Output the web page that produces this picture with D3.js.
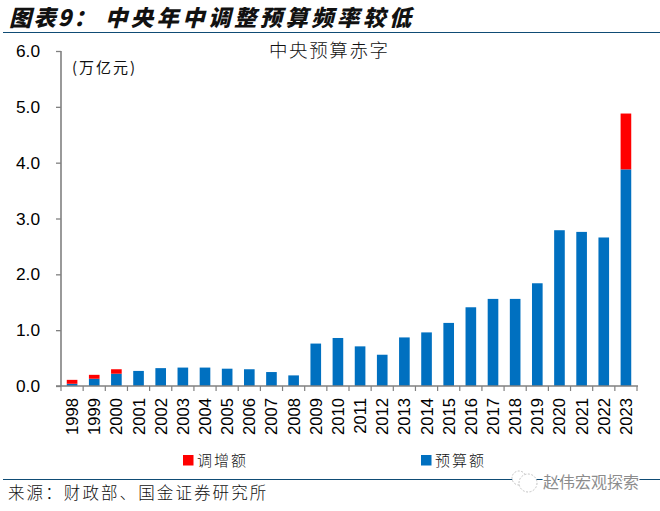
<!DOCTYPE html>
<html><head><meta charset="utf-8">
<script src="https://cdnjs.cloudflare.com/ajax/libs/d3/7.8.5/d3.min.js"></script>
<style>html,body{margin:0;padding:0;background:#fff}svg{display:block}</style>
</head><body><svg id="c" width="660" height="511"></svg>
<script>
const years = ["1998","1999","2000","2001","2002","2003","2004","2005","2006","2007","2008","2009","2010","2011","2012","2013","2014","2015","2016","2017","2018","2019","2020","2021","2022","2023"];
const budget = [0.04,0.13,0.22,0.27,0.32,0.33,0.33,0.31,0.30,0.25,0.19,0.76,0.86,0.71,0.56,0.87,0.96,1.13,1.41,1.56,1.56,1.84,2.79,2.76,2.66,3.88];
const increase = [0.07,0.07,0.08,0,0,0,0,0,0,0,0,0,0,0,0,0,0,0,0,0,0,0,0,0,0,1.0];
const yTicks = [0,1,2,3,4,5,6];
const titleLead = "图表9\uFF1A";
const titleMain = "中央年中调整预算频率较低";
const chartTitle = "中央预算赤字";
const unitLabel = "(万亿元)";
const sourceText = "来源\uFF1A财政部、国金证券研究所";
const watermark = "赵伟宏观探索";
const legendItems = [{name:"调增额",color:"#ff0000",x:183},{name:"预算额",color:"#0070c0",x:421}];

const svg = d3.select("#c");
const sans = "'Liberation Sans',Arial,sans-serif";
const cjk = "'Noto Sans CJK SC',sans-serif";
const x = d3.scaleBand().domain(years).range([61,637]).paddingInner(0.52).paddingOuter(0.26);
const y = d3.scaleLinear().domain([0,6]).range([386,51]);
const axisColor = "#808080";

// Rules
[32.5,479.5].forEach(ry=>svg.append("line").attr("x1",3).attr("x2",660).attr("y1",ry).attr("y2",ry).attr("stroke","#0f4c75").attr("stroke-width",1.2));

// Title
[[titleLead,9,2],[titleMain,105,3.4]].forEach(([t,tx,ls])=>{
  svg.append("text").attr("transform",`translate(${tx},26) skewX(-14)`).attr("font-family",cjk).attr("font-weight",900)
    .attr("font-size",22.4).attr("letter-spacing",ls).attr("fill","#111").text(t);
});

// Bars
const g = svg.append("g");
g.selectAll("rect.b").data(budget).join("rect").attr("class","b")
  .attr("x",(d,i)=>x(years[i])).attr("width",x.bandwidth())
  .attr("y",d=>y(d)).attr("height",d=>y(0)-y(d)).attr("fill","#0070c0");
g.selectAll("rect.r").data(increase).join("rect").attr("class","r")
  .attr("x",(d,i)=>x(years[i])).attr("width",x.bandwidth())
  .attr("y",(d,i)=>y(budget[i]+d)).attr("height",(d,i)=>y(budget[i])-y(budget[i]+d)).attr("fill","#ff0000");

// Y axis
const ya = svg.append("g").attr("transform","translate(61,0)")
  .call(d3.axisLeft(y).tickValues(yTicks).tickFormat(d3.format(".1f")).tickSize(5).tickPadding(16));
ya.selectAll("path").attr("stroke",axisColor).attr("stroke-width",1.6).attr("d","M0,51V386");
ya.selectAll("line").attr("stroke",axisColor).attr("stroke-width",1.3);
ya.selectAll("text").attr("font-family",sans).attr("font-size",17.3).attr("fill","#000");

// X axis
const xEdges = d3.range(years.length+1).map(i=>61+i*(637-61)/years.length);
const xa = svg.append("g").attr("transform","translate(0,386)");
xa.append("line").attr("x1",56).attr("x2",638).attr("stroke",axisColor).attr("stroke-width",1.4);
xa.selectAll("line.t").data(xEdges).join("line").attr("class","t")
  .attr("x1",d=>d).attr("x2",d=>d).attr("y1",0).attr("y2",5).attr("stroke",axisColor).attr("stroke-width",1.2);
xa.selectAll("text").data(years).join("text")
  .attr("transform",d=>`translate(${x(d)+x.bandwidth()/2+6},12) rotate(-90)`)
  .attr("text-anchor","end").attr("font-family",sans).attr("font-size",16.6).attr("fill","#000").text(d=>d);

// Chart title and unit
svg.append("text").attr("x",269).attr("y",57).attr("font-family",cjk).attr("font-weight",300).attr("font-size",18.5).attr("letter-spacing",1.6).attr("fill","#111").text(chartTitle);
svg.append("text").attr("x",72).attr("y",73).attr("font-family",cjk).attr("font-size",15).attr("letter-spacing",2).attr("fill","#111").text(unitLabel);

// Legend
const lg = svg.selectAll("g.l").data(legendItems).join("g").attr("class","l").attr("transform",d=>`translate(${d.x},455)`);
lg.append("rect").attr("width",10.5).attr("height",10.5).attr("fill",d=>d.color);
lg.append("text").attr("x",14).attr("y",11).attr("font-family",cjk).attr("font-weight",300).attr("font-size",15).attr("letter-spacing",2).attr("fill","#111").text(d=>d.name);

// Source
svg.append("text").attr("x",8).attr("y",499).attr("font-family",cjk).attr("font-weight",300).attr("font-size",16.5).attr("letter-spacing",2.1).attr("fill","#111").text(sourceText);

// Watermark
const wm = svg.append("g").attr("fill","none").attr("stroke","#c4c4c4").attr("stroke-width",1);
wm.append("circle").attr("cx",519).attr("cy",478).attr("r",7).attr("fill","#fff").attr("stroke-dasharray","2 1.5");
wm.append("circle").attr("cx",528).attr("cy",483).attr("r",9).attr("fill","#fff").attr("stroke-dasharray","2 1.5");
svg.append("text").attr("x",543).attr("y",488).attr("font-family",cjk).attr("font-size",16).attr("fill","#8c8c8c")
  .attr("stroke","#fff").attr("stroke-width",2.5).attr("paint-order","stroke").text(watermark);
</script></body></html>
